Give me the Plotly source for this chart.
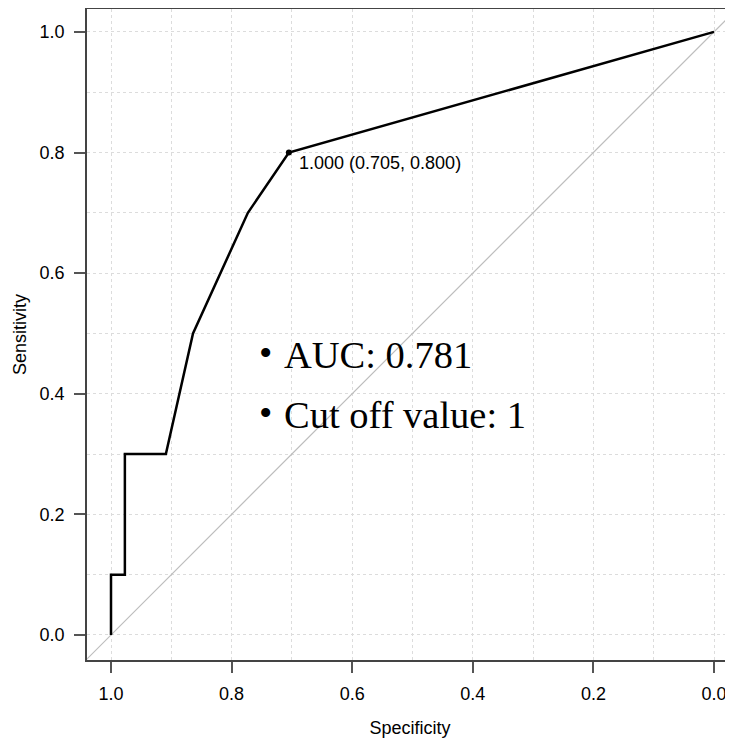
import plotly.graph_objects as go

# ROC curve data (specificity, sensitivity)
specificity = [1.0, 1.0, 0.977, 0.977, 0.909, 0.864, 0.773, 0.705, 0.0]
sensitivity = [0.0, 0.1, 0.1, 0.3, 0.3, 0.5, 0.7, 0.8, 1.0]

# best threshold point
cut_spec = [0.705]
cut_sens = [0.800]
cut_label = "1.000 (0.705, 0.800)"

# chance diagonal
diag_spec = [1.05, -0.05]
diag_sens = [-0.05, 1.05]

auc_text = "AUC: 0.781"
cutoff_text = "Cut off value: 1"
bullet = "•"

tick_vals = [0.0, 0.2, 0.4, 0.6, 0.8, 1.0]
tick_text = ["0.0", "0.2", "0.4", "0.6", "0.8", "1.0"]

sans = "Liberation Sans, Arial, sans-serif"
serif = "Liberation Serif, Times New Roman, serif"

fig = go.Figure()
fig.add_trace(go.Scatter(x=diag_spec, y=diag_sens, mode="lines",
                         line=dict(color="#bdbdbd", width=1.2),
                         hoverinfo="skip", showlegend=False))
fig.add_trace(go.Scatter(x=specificity, y=sensitivity, mode="lines",
                         line=dict(color="black", width=2.5),
                         showlegend=False))
fig.add_trace(go.Scatter(x=cut_spec, y=cut_sens, mode="markers",
                         marker=dict(color="black", size=6),
                         showlegend=False))

fig.add_annotation(x=cut_spec[0], y=cut_sens[0], text=cut_label,
                   showarrow=False, xanchor="left", yanchor="middle",
                   xshift=8, yshift=-10,
                   font=dict(family=sans, size=18, color="black"))
for yv, txt in [(0.465, auc_text), (0.365, cutoff_text)]:
    fig.add_annotation(x=0.744, y=yv, text=bullet, showarrow=False,
                       xanchor="center", yanchor="middle", yshift=2,
                       font=dict(family=serif, size=38, color="black"))
    fig.add_annotation(x=0.717, y=yv, text=txt, showarrow=False,
                       xanchor="left", yanchor="middle",
                       font=dict(family=serif, size=38.5, color="black"))

axis_common = dict(
    tickvals=tick_vals, ticktext=tick_text,
    ticks="outside", ticklen=11, tickwidth=1.5, tickcolor="#555",
    showline=True, linecolor="#444", linewidth=1.5,
    showgrid=True, gridcolor="#dcdcdc", griddash="dot", gridwidth=1,
    minor=dict(dtick=0.1, tick0=0, showgrid=True, gridcolor="#dcdcdc",
               griddash="dot", gridwidth=1, ticks=""),
    zeroline=False, automargin=False, ticklabelstandoff=6,
    tickfont=dict(family=sans, size=18, color="black"),
)

fig.update_xaxes(range=[1.0398, -0.0315], mirror=True,
                 title=dict(text="Specificity", font=dict(family=sans, size=18, color="black"),
                            standoff=18),
                 **axis_common)
fig.update_yaxes(range=[-0.0415, 1.038], mirror=False,
                 title=dict(text="Sensitivity", font=dict(family=sans, size=18, color="black"),
                            standoff=8),
                 **axis_common)

# page body has an 8px default margin, so the figure is sized to fit the window
fig.update_layout(width=725, height=733,
                  margin=dict(l=79, r=0, t=1, b=81),
                  plot_bgcolor="white", paper_bgcolor="white")

fig.write_html("out.html")
